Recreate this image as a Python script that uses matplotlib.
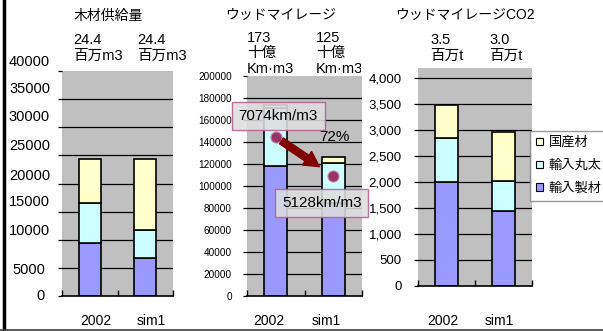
import matplotlib
matplotlib.use("Agg")
import matplotlib.pyplot as plt
from matplotlib.patches import Patch
from matplotlib.lines import Line2D
from matplotlib.transforms import Bbox, TransformedBbox, ScaledTranslation, blended_transform_factory

plt.rcParams['font.family'] = ['Liberation Sans', 'Noto Sans CJK JP', 'DejaVu Sans']

# ---- data ----
categories = ['2002', 'sim1']
legend_names = ['国産材', '輸入丸太', '輸入製材']

# wood supply (thousand m3)
supply_sawn = [9400, 6800]
supply_logs = [7150, 4950]
supply_domestic = [7850, 12650]
supply_labels = ['24.4\n百万m3', '24.4\n百万m3']

# wood mileage (million km·m3)
mileage_sawn = [118000, 85000]
mileage_logs = [53000, 36000]
mileage_domestic = [2600, 5000]
mileage_labels = ['173\n十億\nKm·m3', '125\n十億\nKm·m3']
distance_per_m3 = [7074, 5128]
distance_labels = ['7074km/m3', '5128km/m3']
ratio_label = '72%'

# wood mileage CO2 (thousand t)
co2_sawn = [2000, 1440]
co2_logs = [850, 580]
co2_domestic = [620, 940]
co2_labels = ['3.5\n百万t', '3.0\n百万t']

panel_titles = ['木材供給量', 'ウッドマイレージ', 'ウッドマイレージCO2']

# ---- styling ----
W, H = 603, 331
DPI = 100
C_SAWN = '#9999FF'
C_LOGS = '#CCFFFF'
C_DOM = '#FFFFCC'
C_BG = '#C0C0C0'
PT = 72.0 / DPI  # points per pixel

fig = plt.figure(figsize=(W / DPI, H / DPI), dpi=DPI)
fig.patch.set_facecolor('white')


def px_axes(x0, y0, x1, y1):
    """Create axes from a pixel box (top-left origin)."""
    return fig.add_axes([x0 / W, (H - y1) / H, (x1 - x0) / W, (y1 - y0) / H])


def draw_stack(ax, sawn, logs, dom, ymax, yticks, width=0.4):
    ax.set_facecolor(C_BG)
    x = list(range(len(categories)))
    ax.bar(x, sawn, width, color=C_SAWN, edgecolor='black', linewidth=1.2, zorder=3)
    ax.bar(x, logs, width, bottom=sawn, color=C_LOGS, edgecolor='black', linewidth=1.2, zorder=3)
    bottoms = [a + b for a, b in zip(sawn, logs)]
    ax.bar(x, dom, width, bottom=bottoms, color=C_DOM, edgecolor='black', linewidth=1.2, zorder=3)
    ax.set_xlim(-0.5, 1.5)
    ax.set_ylim(0, ymax)
    ax.set_yticks(yticks)
    for v in yticks:
        if 0 < v < ymax:
            ax.axhline(v, color='black', linewidth=0.9, zorder=1)
    for s in ['top', 'right', 'left']:
        ax.spines[s].set_visible(False)
    ax.spines['bottom'].set_color('black')
    ax.spines['bottom'].set_linewidth(1.2)
    ax.spines['bottom'].set_zorder(4)
    ax.tick_params(axis='y', length=3, width=0.9, color='black', direction='out')
    ax.set_xticks([-0.5, 0.5, 1.5], minor=True)
    ax.tick_params(axis='x', which='minor', length=4, width=1, direction='in', color='black')
    ax.tick_params(axis='x', which='major', length=0)


def set_xlabels(ax, pad_px, dx_px, size=10):
    ax.set_xticks([0, 1])
    ax.set_xticklabels(categories, fontsize=size)
    ax.tick_params(axis='x', which='major', pad=pad_px * PT)
    off = ScaledTranslation(dx_px / DPI, 0, fig.dpi_scale_trans)
    for lab in ax.get_xticklabels():
        lab.set_transform(lab.get_transform() + off)


def fig_text(xpx, ypx, s, **kw):
    return fig.text(xpx / W, 1 - ypx / H, s, **kw)


# ---- panel 1: wood supply ----
ax1 = px_axes(62, 71, 173, 296)
draw_stack(ax1, supply_sawn, supply_logs, supply_domestic, 40000,
           list(range(0, 40001, 5000)))
ax1.set_yticklabels([])
label_shift = {40000: (0, -9), 35000: (0, -10), 30000: (0, -10), 25000: (0, -9),
               20000: (0, -8), 15000: (0, -10), 10000: (0, -9), 5000: (-5, 2), 0: (-5, 0)}
ytrans = blended_transform_factory(ax1.transAxes, ax1.transData)
for v in range(0, 40001, 5000):
    dx, dy = label_shift[v]
    t = ytrans + ScaledTranslation((dx - 12) / DPI, -dy / DPI, fig.dpi_scale_trans)
    ax1.text(0, v, str(v), transform=t, ha='right', va='center', fontsize=10.5)
set_xlabels(ax1, 18, 6)
fig_text(108, 16, panel_titles[0], ha='center', va='center', fontsize=10)
for xpx, s in zip([73, 137], supply_labels):
    fig_text(xpx, 33, s, ha='left', va='top', fontsize=10.5, linespacing=1.15)

# ---- panel 2: wood mileage ----
ax2 = px_axes(247, 76, 362, 296)
draw_stack(ax2, mileage_sawn, mileage_logs, mileage_domestic, 200000,
           list(range(0, 200001, 20000)))
ax2.set_yticklabels([str(v) for v in range(0, 200001, 20000)], fontsize=7.2)
ax2.tick_params(axis='y', pad=11 * PT)
set_xlabels(ax2, 18, -7)
fig_text(281, 15, panel_titles[1], ha='center', va='center', fontsize=10)
clip = TransformedBbox(Bbox([[0, 0], [361 / W, 1]]), fig.transFigure)
for xpx, s in zip([247, 316], mileage_labels):
    t = fig_text(xpx, 31, s, ha='left', va='top', fontsize=10.5, linespacing=1.12)
    t.set_clip_box(clip)
    t.set_clip_on(True)

# distance per m3 on a hidden secondary scale
ax2b = ax2.twinx()
ax2b.set_ylim(-860, 10120)
ax2b.set_axis_off()
ax2b.plot([0, 1], distance_per_m3, linestyle='none', marker='o', markersize=8,
          markerfacecolor='#993366', markeredgecolor='#c48aa8', markeredgewidth=0.8, zorder=6)
ax2b.annotate('', xy=(1, distance_per_m3[1]), xytext=(0, distance_per_m3[0]),
              xycoords='data', textcoords='data',
              arrowprops=dict(arrowstyle='simple,head_length=0.6,head_width=0.65,tail_width=0.28',
                              color='#800000', shrinkA=5, shrinkB=12, mutation_scale=18),
              zorder=7)
box_style = dict(boxstyle='square,pad=0.45', facecolor='#dedede', alpha=0.88,
                 edgecolor='#b35f94', linewidth=1)
label_offsets = [(2.5, 21), (-11.5, -27)]
for i, (s, (dx, dy)) in enumerate(zip(distance_labels, label_offsets)):
    a = ax2b.annotate(s, xy=(i, distance_per_m3[i]), xytext=(dx * PT, dy * PT),
                      textcoords='offset points', ha='center', va='center',
                      fontsize=11, bbox=box_style, zorder=8, annotation_clip=False)
    a.get_bbox_patch().set_edgecolor('#b35f94')
ax2.text(1.02, 144100, ratio_label, ha='center', va='center', fontsize=11, zorder=8)

# ---- panel 3: wood mileage CO2 ----
ax3 = px_axes(418, 68, 532, 286)
draw_stack(ax3, co2_sawn, co2_logs, co2_domestic, 4190,
           list(range(0, 4001, 500)))
ax3.set_yticklabels([f'{v:,}' for v in range(0, 4001, 500)], fontsize=9.5)
ax3.tick_params(axis='y', pad=12 * PT)
set_xlabels(ax3, 28, -4)
fig_text(465, 15, panel_titles[2], ha='center', va='center', fontsize=10)
for xpx, s in zip([430, 489], co2_labels):
    fig_text(xpx, 33, s, ha='left', va='top', fontsize=10.5, linespacing=1.15)

# legend
leg_handles = [Patch(facecolor=c, edgecolor='black', linewidth=0.8)
               for c in (C_DOM, C_LOGS, C_SAWN)]
leg = fig.legend(leg_handles, legend_names,
                 loc='upper left', bbox_to_anchor=(530 / W, 1 - 131 / H),
                 fontsize=9.5, frameon=True, fancybox=False, borderpad=0.45,
                 handlelength=0.5, handleheight=0.5, handletextpad=0.45,
                 labelspacing=0.8, borderaxespad=0)
leg.get_frame().set_edgecolor('#808080')
leg.get_frame().set_linewidth(1)

# outer border lines
fig.add_artist(Line2D([4 / W, 4 / W], [0, 1], color='black', linewidth=2.5))
fig.add_artist(Line2D([0, 1], [1 - 329.5 / H, 1 - 329.5 / H], color='#404040', linewidth=1.2))

fig.savefig('out.png', dpi=DPI)
